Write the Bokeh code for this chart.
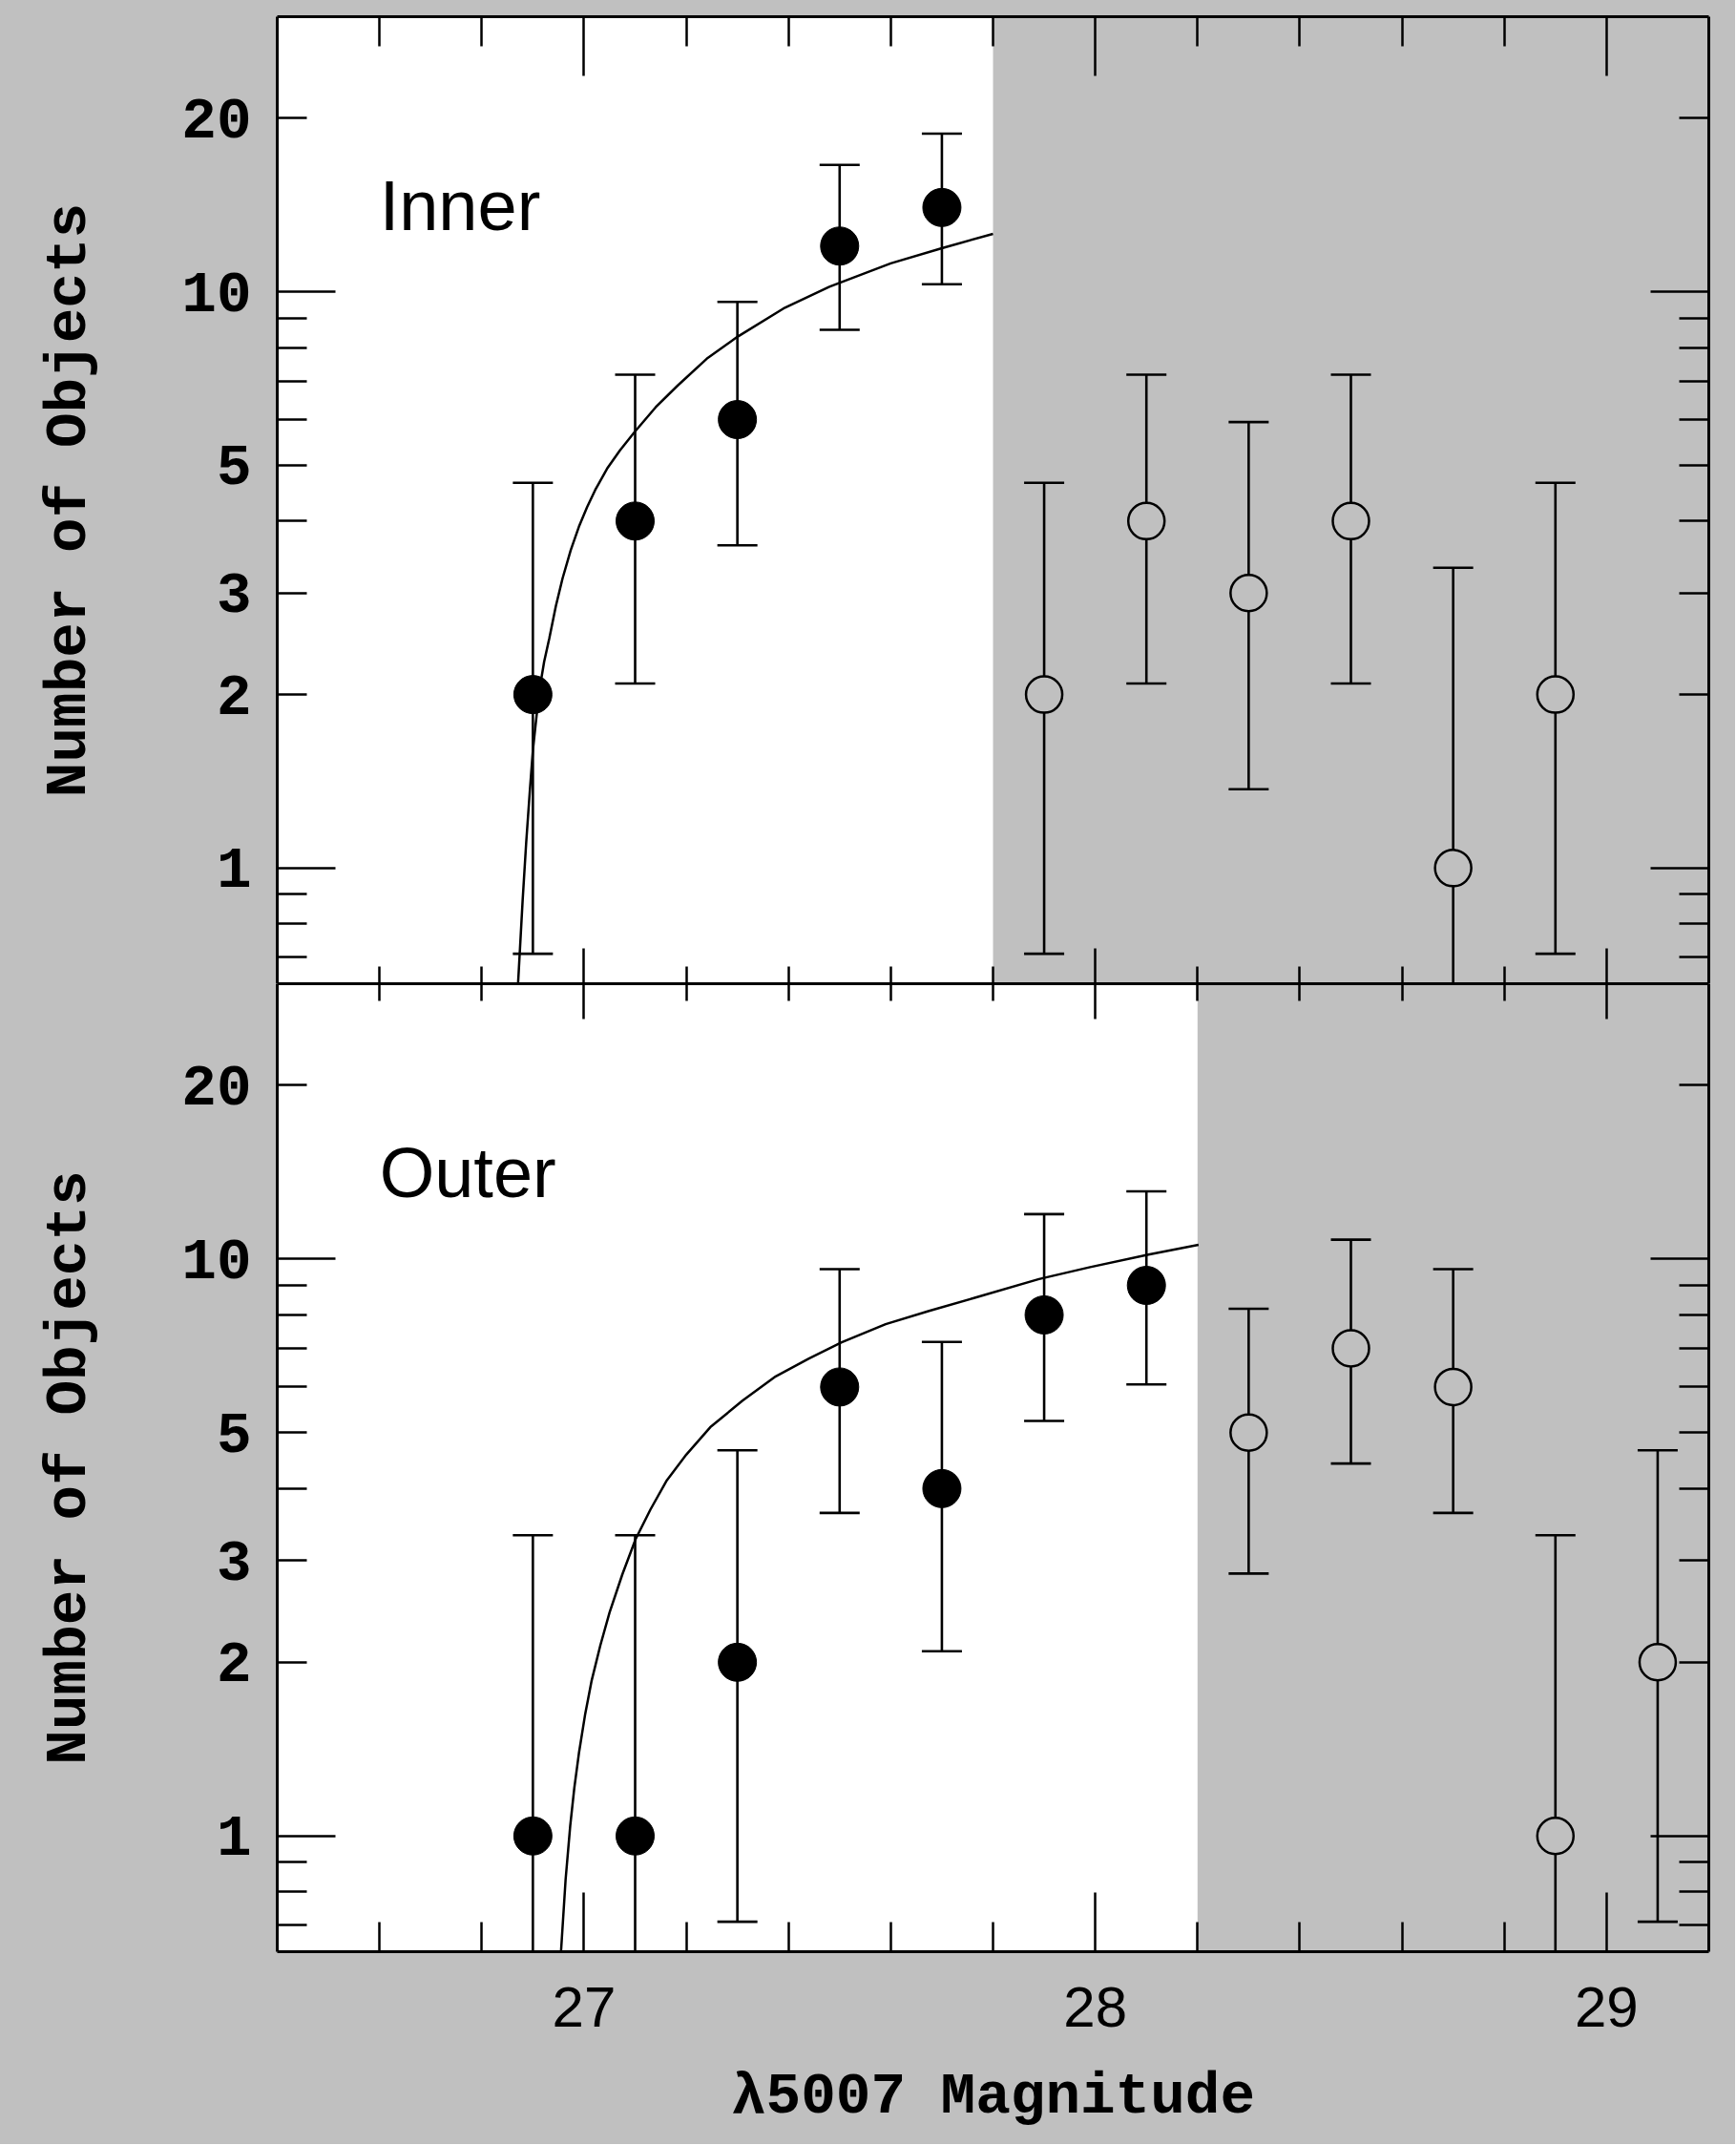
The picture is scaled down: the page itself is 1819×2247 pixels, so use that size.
from bokeh.plotting import figure
from bokeh.layouts import column
from bokeh.models import (Range1d, LogAxis, LinearAxis, FixedTicker,
                          CustomJSTickFormatter, BoxAnnotation, Label)
from bokeh.embed import file_html
from bokeh.resources import INLINE

BG = "#c0c0c0"
MONO = "Liberation Mono"
SANS = "Liberation Sans"

# ---------------- axes / ticks ----------------
x_start, x_end = 26.4, 29.2
y_start, y_end = 0.63, 30
x_major = [27, 28, 29]
x_minor = [26.6, 26.8, 27.2, 27.4, 27.6, 27.8, 28.2, 28.4, 28.6, 28.8]
y_major = [1, 10]
y_minor = [0.7, 0.8, 0.9, 2, 3, 4, 5, 6, 7, 8, 9, 20]
y_labeled = [1, 2, 3, 5, 10, 20]

# ---------------- Inner field ----------------
inner_cut = 27.8
inner_mag_fit = [26.9, 27.1, 27.3, 27.5, 27.7]
inner_n_fit = [2, 4, 6, 12, 14]
inner_hi_fit = [4.66, 7.18, 9.6, 16.6, 18.8]
inner_lo_fit = [0.71, 2.09, 3.63, 8.59, 10.3]
inner_mag_faint = [27.9, 28.1, 28.3, 28.5, 28.7, 28.9]
inner_n_faint = [2, 4, 3, 4, 1, 2]
inner_hi_faint = [4.66, 7.18, 5.94, 7.18, 3.32, 4.66]
inner_lo_faint = [0.71, 2.09, 1.37, 2.09, 0.17, 0.71]
inner_curve_mag = [26.871, 26.880, 26.887, 26.894, 26.900, 26.907, 26.913,
                   26.922, 26.932, 26.945, 26.958, 26.974, 26.990, 27.006,
                   27.022, 27.045, 27.070, 27.099, 27.140, 27.183, 27.240,
                   27.300, 27.390, 27.480, 27.600, 27.700, 27.800]
inner_curve_n = [0.63, 0.88, 1.11, 1.36, 1.60, 1.83, 2.04,
                 2.28, 2.50, 2.85, 3.18, 3.56, 3.91, 4.23,
                 4.53, 4.93, 5.30, 5.71, 6.30, 6.87, 7.65,
                 8.35, 9.35, 10.2, 11.2, 11.9, 12.6]

# ---------------- Outer field ----------------
outer_cut = 28.2
outer_mag_fit = [26.9, 27.1, 27.3, 27.5, 27.7, 27.9, 28.1]
outer_n_fit = [1, 1, 2, 6, 4, 8, 9]
outer_hi_fit = [3.32, 3.32, 4.66, 9.6, 7.18, 11.96, 13.1]
outer_lo_fit = [0.17, 0.17, 0.71, 3.63, 2.09, 5.24, 6.06]
outer_mag_faint = [28.3, 28.5, 28.7, 28.9, 29.1]
outer_n_faint = [5, 7, 6, 1, 2]
outer_hi_faint = [8.2, 10.8, 9.6, 3.32, 4.66]
outer_lo_faint = [2.85, 4.42, 3.63, 0.17, 0.71]
outer_curve_mag = [26.955, 26.964, 26.973, 26.981, 26.990, 27.002, 27.015,
                   27.032, 27.050, 27.075, 27.101, 27.130, 27.161, 27.200,
                   27.247, 27.310, 27.375, 27.440, 27.504, 27.590, 27.675,
                   27.761, 27.890, 27.990, 28.104, 28.202]
outer_curve_n = [0.63, 0.84, 1.04, 1.21, 1.39, 1.62, 1.86,
                 2.14, 2.44, 2.84, 3.27, 3.68, 4.12, 4.58,
                 5.11, 5.68, 6.26, 6.72, 7.17, 7.71, 8.13,
                 8.55, 9.23, 9.68, 10.18, 10.58]


def style_ticks(ax, major_in, minor_in, line=True):
    ax.major_tick_in = major_in
    ax.minor_tick_in = minor_in
    ax.major_tick_out = 0
    ax.minor_tick_out = 0
    ax.major_tick_line_width = 2.5
    ax.minor_tick_line_width = 2.5
    ax.major_tick_line_color = "black"
    ax.minor_tick_line_color = "black"
    if line:
        ax.axis_line_color = "black"
        ax.axis_line_width = 3
    else:
        ax.axis_line_color = None


def hide_labels(ax):
    ax.formatter = CustomJSTickFormatter(code="return ''")
    ax.major_label_text_font_size = "0px"
    ax.major_label_standoff = 0


def make_panel(title, cut, mag_fit, n_fit, hi_fit, lo_fit,
               mag_faint, n_faint, hi_faint, lo_faint, cmag, cn, is_top):
    p = figure(frame_width=1500, frame_height=1013 if is_top else 1014,
               x_range=Range1d(x_start, x_end), y_range=Range1d(y_start, y_end),
               y_axis_type="log", x_axis_location=None, y_axis_location=None,
               toolbar_location=None, output_backend="svg",
               min_border_left=290, min_border_right=28,
               min_border_top=17 if is_top else 0,
               min_border_bottom=0 if is_top else 202,
               background_fill_color=BG, border_fill_color=BG,
               outline_line_color=None)
    p.xgrid.grid_line_color = None
    p.ygrid.grid_line_color = None

    p.add_layout(BoxAnnotation(right=cut, fill_color="white", fill_alpha=1.0,
                               line_color=None, level="underlay"))

    # top axis
    top_ax = LinearAxis(ticker=FixedTicker(ticks=x_major, minor_ticks=x_minor))
    style_ticks(top_ax, 62 if is_top else 37, 31 if is_top else 18)
    hide_labels(top_ax)
    p.add_layout(top_ax, "above")

    # bottom axis
    bot_ax = LinearAxis(ticker=FixedTicker(ticks=x_major, minor_ticks=x_minor))
    if is_top:
        style_ticks(bot_ax, 37, 18)
        hide_labels(bot_ax)
    else:
        style_ticks(bot_ax, 62, 31)
        bot_ax.major_label_text_font = SANS
        bot_ax.major_label_text_font_size = "60px"
        bot_ax.major_label_text_color = "black"
        bot_ax.major_label_standoff = 37
        bot_ax.axis_label = "\u03bb5007 Magnitude"
        bot_ax.axis_label_text_font = MONO
        bot_ax.axis_label_text_font_size = "61px"
        bot_ax.axis_label_text_font_style = "bold"
        bot_ax.axis_label_text_color = "black"
        bot_ax.axis_label_standoff = 36
    p.add_layout(bot_ax, "below")

    # left: long/short ticks (closest to frame), then labels
    left_ticks = LogAxis(ticker=FixedTicker(ticks=y_major, minor_ticks=y_minor))
    style_ticks(left_ticks, 61, 31)
    hide_labels(left_ticks)
    p.add_layout(left_ticks, "left")

    left_lab = LogAxis(ticker=FixedTicker(ticks=y_labeled, minor_ticks=[]))
    style_ticks(left_lab, 0, 0, line=False)
    left_lab.major_tick_line_color = None
    left_lab.minor_tick_line_color = None
    left_lab.formatter = CustomJSTickFormatter(code="return String(Math.round(tick))")
    left_lab.major_label_text_font = MONO
    left_lab.major_label_text_font_size = "61px"
    left_lab.major_label_text_font_style = "bold"
    left_lab.major_label_text_color = "black"
    left_lab.major_label_standoff = 27
    left_lab.axis_label = "Number of Objects"
    left_lab.axis_label_text_font = MONO
    left_lab.axis_label_text_font_size = "61px"
    left_lab.axis_label_text_font_style = "bold"
    left_lab.axis_label_text_color = "black"
    left_lab.axis_label_standoff = 80
    p.add_layout(left_lab, "left")

    right_ax = LogAxis(ticker=FixedTicker(ticks=y_major, minor_ticks=y_minor))
    style_ticks(right_ax, 61, 31)
    hide_labels(right_ax)
    p.add_layout(right_ax, "right")

    # fit curve
    p.line(cmag, cn, line_color="black", line_width=2.5)

    # error bars
    p.segment(x0=mag_fit, y0=lo_fit, x1=mag_fit, y1=hi_fit,
              line_color="black", line_width=2.6)
    p.scatter(mag_fit + mag_fit, hi_fit + lo_fit, marker="dash", size=42,
              line_color="black", line_width=2.6)
    p.segment(x0=mag_faint, y0=lo_faint, x1=mag_faint, y1=hi_faint,
              line_color="black", line_width=2.6)
    p.scatter(mag_faint + mag_faint, hi_faint + lo_faint, marker="dash", size=42,
              line_color="black", line_width=2.6)

    # points
    p.scatter(mag_fit, n_fit, marker="circle", size=40,
              fill_color="black", line_color="black", line_width=1)
    p.scatter(mag_faint, n_faint, marker="circle", size=38,
              fill_color=BG, line_color="black", line_width=2.5)

    p.add_layout(Label(x=26.6, y=14.1, text=title, text_font=SANS,
                       text_font_size="74px", text_color="black",
                       text_baseline="alphabetic", text_align="left"))
    return p


p1 = make_panel("Inner", inner_cut, inner_mag_fit, inner_n_fit, inner_hi_fit,
                inner_lo_fit, inner_mag_faint, inner_n_faint, inner_hi_faint,
                inner_lo_faint, inner_curve_mag, inner_curve_n, True)
p2 = make_panel("Outer", outer_cut, outer_mag_fit, outer_n_fit, outer_hi_fit,
                outer_lo_fit, outer_mag_faint, outer_n_faint, outer_hi_faint,
                outer_lo_faint, outer_curve_mag, outer_curve_n, False)

p = column(p1, p2, spacing=0, styles={"background-color": BG})
open("out.html", "w").write(file_html(p, INLINE))
